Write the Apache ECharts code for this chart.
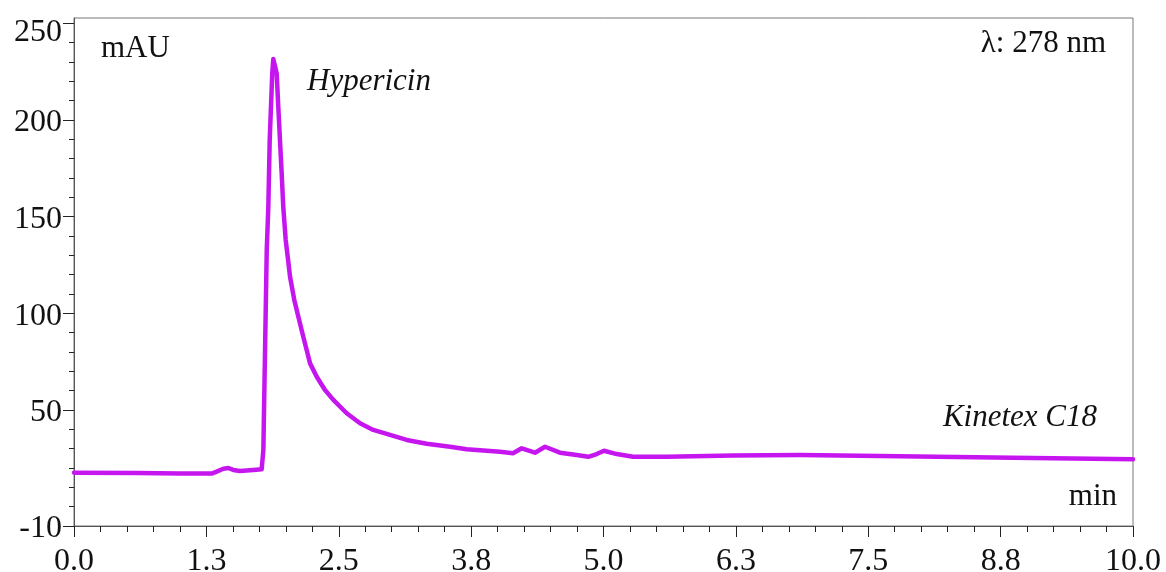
<!DOCTYPE html>
<html>
<head>
<meta charset="utf-8">
<script src="https://cdn.jsdelivr.net/npm/echarts@6/dist/echarts.min.js"></script>
<style>
  html, body { margin: 0; padding: 0; background: #fff; }
  #chart { width: 1166px; height: 572px; }
</style>
</head>
<body>
<div id="chart"></div>
<script>
// Retention time (min)
const timeMin = [0, 0.6, 1.0, 1.30, 1.347, 1.41, 1.457, 1.504, 1.567, 1.693, 1.772, 1.788, 1.820, 1.835, 1.848, 1.872, 1.882, 1.914, 1.929, 1.945, 1.961, 1.976, 1.999, 2.018, 2.040, 2.080, 2.118, 2.165, 2.197, 2.229, 2.292, 2.370, 2.449, 2.575, 2.701, 2.826, 2.984, 3.142, 3.33, 3.551, 3.708, 4.023, 4.145, 4.228, 4.353, 4.448, 4.589, 4.747, 4.856, 4.936, 5.005, 5.125, 5.279, 5.597, 6.223, 6.856, 7.611, 8.867, 10.0];
// Absorbance (mAU)
const absorbance = [17.6, 17.4, 17.2, 17.1, 18.1, 19.6, 20.0, 19.0, 18.4, 19.0, 19.3, 29.3, 132.7, 155.1, 189.6, 224.1, 231.5, 224.1, 206.9, 189.6, 172.4, 155.1, 137.9, 129.3, 118.9, 106.9, 98.3, 87.9, 81.0, 74.1, 67.2, 60.3, 55.2, 48.3, 43.1, 39.7, 37.1, 34.5, 32.5, 31.0, 29.7, 28.4, 27.6, 30.2, 27.9, 31.0, 27.9, 26.7, 25.8, 27.2, 28.9, 27.2, 25.8, 25.8, 26.4, 26.7, 26.2, 25.3, 24.5];

const yLabelValues = [-10, 50, 100, 150, 200, 250];
const yMinorValues = [-10, 0, 10, 20, 30, 40, 50, 60, 70, 80, 90, 100, 110, 120, 130, 140, 150, 160, 170, 180, 190, 200, 210, 220, 230, 240, 250];
const yRange = [-10, 252.7];
const xRange = [0, 10];
const xInterval = 1.25;

const yUnit = 'mAU';
const xUnit = 'min';
const peakName = 'Hypericin';
const columnName = 'Kinetex C18';
const wavelength = 'λ: 278 nm';

const FONT = 'Liberation Serif';
const chart = echarts.init(document.getElementById('chart'), null, { renderer: 'canvas' });

const axisColor = '#555';
const lineData = timeMin.map((t, i) => [t, absorbance[i]]);
const topLabel = yLabelValues[yLabelValues.length - 1];

chart.setOption({
  animation: false,
  backgroundColor: '#fff',
  grid: {
    left: 74, right: 33, top: 18, bottom: 46,
    containLabel: false,
    outerBoundsMode: 'none',
    show: true, borderColor: '#777', borderWidth: 1, backgroundColor: 'transparent'
  },
  xAxis: {
    type: 'value',
    min: xRange[0], max: xRange[1], interval: xInterval,
    axisLine: { show: true, onZero: false, lineStyle: { color: axisColor, width: 1 } },
    axisTick: { show: true, length: 11, lineStyle: { color: '#222', width: 1 } },
    minorTick: { show: true, splitNumber: 5, length: 6, lineStyle: { color: '#222', width: 1 } },
    splitLine: { show: false },
    axisLabel: {
      margin: 20, color: '#111', fontFamily: FONT, fontSize: 32,
      hideOverlap: false,
      formatter: v => v.toFixed(1)
    }
  },
  yAxis: [
    {
      type: 'value',
      min: yRange[0], max: yRange[1],
      position: 'left',
      axisLine: { show: true, onZero: false, lineStyle: { color: axisColor, width: 1 } },
      axisTick: { show: true, length: 5, customValues: yMinorValues, lineStyle: { color: '#222', width: 1 } },
      axisLabel: { show: false },
      splitLine: { show: false }
    },
    {
      type: 'value',
      min: yRange[0], max: yRange[1],
      position: 'left',
      axisLine: { show: false, onZero: false },
      axisTick: { show: true, length: 11, customValues: yLabelValues, lineStyle: { color: '#222', width: 1 } },
      axisLabel: {
        show: true, customValues: yLabelValues, margin: 12,
        color: '#111', fontFamily: FONT, fontSize: 32,
        formatter: v => (v === topLabel ? '{t|' + v + '}' : '{n|' + v + '}'),
        rich: {
          n: { fontFamily: FONT, fontSize: 32, color: '#111', padding: [6, 0, 0, 0] },
          t: { fontFamily: FONT, fontSize: 32, color: '#111', padding: [18, 0, 0, 0] }
        }
      },
      splitLine: { show: false }
    }
  ],
  series: [{
    type: 'line',
    xAxisIndex: 0, yAxisIndex: 0,
    data: lineData,
    showSymbol: false,
    smooth: false,
    lineStyle: { color: '#c616f0', width: 4.5, join: 'round', cap: 'round' },
    z: 3
  }],
  graphic: [
    { type: 'text', left: 101, top: 33, style: { text: yUnit, font: '31px "' + FONT + '"', fill: '#111' } },
    { type: 'text', left: 307, top: 66, style: { text: peakName, font: 'italic 31px "' + FONT + '"', fill: '#111' } },
    { type: 'text', right: 60, top: 28, style: { text: wavelength, font: '31px "' + FONT + '"', fill: '#111' } },
    { type: 'text', right: 69, top: 402, style: { text: columnName, font: 'italic 31px "' + FONT + '"', fill: '#111' } },
    { type: 'text', right: 49, top: 481, style: { text: xUnit, font: '31px "' + FONT + '"', fill: '#111' } }
  ]
});
</script>
</body>
</html>
